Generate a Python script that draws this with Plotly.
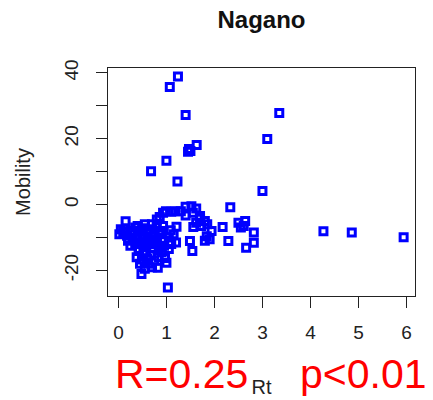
import plotly.graph_objects as go

# Rt (x) and Mobility (y) values
rt = [
    # outliers
    1.24, 1.07, 1.40, 3.35, 3.10, 1.63, 1.47, 1.50, 1.45, 1.00, 0.68, 1.23, 3.00, 2.33,
    4.27, 4.86, 5.94, 1.03, 0.48,
    # mid-right group
    2.17, 2.29, 2.50, 2.64, 2.61, 2.82, 2.82, 2.66, 2.55,
    # right lobe
    1.40, 1.52, 1.62, 1.40, 1.55, 1.70, 1.70, 1.80, 1.85, 1.56, 1.62, 1.94, 1.84, 1.80,
    1.90, 1.49, 1.54, 1.72,
    # arc top
    0.99, 1.19, 0.93, 1.10, 1.30, 0.86, 0.80,
    # main blob
    0.15, 0.05, 0.02, 0.10, 0.18, 0.25, 0.30, 0.35, 0.40, 0.45, 0.50, 0.55, 0.60, 0.65,
    0.70, 0.75, 0.80, 0.85, 0.93, 1.09, 1.21, 1.15, 1.05, 0.95, 1.20, 0.90, 0.40, 0.45,
    0.50, 0.55, 0.60, 0.65, 0.70, 0.75, 0.80, 0.85, 0.30, 0.35, 0.42, 0.43, 0.49, 0.52,
    0.58, 0.67, 0.72, 0.84, 0.84, 0.97, 1.00, 0.82, 0.62, 0.55, 0.45, 0.75, 0.90, 1.05,
    0.38, 0.60, 0.70, 0.95, 1.10, 0.20, 0.25,
]
mobility = [
    38.9, 35.7, 27.2, 27.8, 19.9, 18.1, 16.9, 16.3, 16.0, 13.3, 10.1, 7.0, 4.1, -0.8,
    -8.1, -8.5, -9.9, -25.2, -21.1,
    -6.8, -11.1, -5.5, -5.0, -6.5, -8.5, -11.6, -13.1, -7.0,
    -0.7, -0.5, -1.2, -3.3, -2.5, -3.5, -4.3, -5.0, -6.0, -6.8, -5.5, -8.0, -9.6, -11.0,
    -10.5, -11.1, -14.1, -6.5,
    -2.0, -2.0, -2.5, -2.2, -2.0, -3.8, -4.5,
    -5.1, -7.5, -9.0, -8.3, -9.5, -8.0, -8.5, -7.0, -6.5, -8.0, -7.2, -6.0, -8.8, -7.5,
    -6.0, -8.5, -7.0, -9.0, -6.5, -7.8, -6.7, -9.0, -10.0, -11.0, -11.5, -8.0, -10.0, -11.5,
    -9.5, -12.5, -10.5, -11.8, -9.8, -12.0, -10.5, -13.0, -10.5, -12.0, -13.5, -14.1, -16.7, -15.0,
    -14.2, -15.5, -13.1, -13.7, -15.9, -16.2, -17.7, -19.2, -18.0, -19.5, -18.0, -17.0, -14.5, -13.5,
    -16.0, -16.5, -19.0, -12.5, -12.0, -11.0, -12.5,
]

x_ticks = [0, 1, 2, 3, 4, 5, 6]
y_ticks = [-20, -10, 0, 10, 20, 30, 40]
y_ticktext = ["-20", "", "0", "", "20", "", "40"]

title_text = "Nagano"
x_title = "Rt"
y_title = "Mobility"
r_text = "R=0.25"
p_text = "p<0.01"


def r_range(v):
    lo, hi = min(v), max(v)
    ext = 0.04 * (hi - lo)
    return [lo - ext, hi + ext]


FONT = "Liberation Sans, Arial, sans-serif"

fig = go.Figure()
fig.add_trace(go.Scatter(
    x=rt, y=mobility, mode="markers",
    marker=dict(symbol="square-open", size=7, color="#0000FF",
                line=dict(width=3, color="#0000FF")),
    showlegend=False,
))

axis_font = dict(family=FONT, size=19, color="#222222")

fig.update_layout(
    width=433, height=400,
    margin=dict(l=108, r=18, t=68, b=104, autoexpand=False),
    paper_bgcolor="white", plot_bgcolor="white",
    title=dict(text=f"<b>{title_text}</b>", x=0.5, xref="paper", xanchor="center",
               y=1 - 20 / 400, yref="container", yanchor="middle", automargin=False,
               font=dict(family=FONT, size=24, color="#111111")),
    xaxis=dict(
        range=r_range(rt), tickvals=x_ticks, ticks="outside", ticklen=11, tickwidth=1.3,
        tickcolor="#222222", showline=True, linecolor="#222222", linewidth=1.3, mirror=True,
        showgrid=False, zeroline=False, tickfont=axis_font, ticklabelstandoff=8,
        automargin=False,
        title=dict(text=x_title, font=dict(family=FONT, size=20, color="#222222"), standoff=38),
    ),
    yaxis=dict(
        range=r_range(mobility), tickvals=y_ticks, ticktext=y_ticktext, ticks="outside",
        ticklen=11, tickwidth=1.3, tickcolor="#222222", showline=True, linecolor="#222222",
        linewidth=1.3, mirror=True, showgrid=False, zeroline=False, tickfont=axis_font,
        tickangle=-90, ticklabelstandoff=10, automargin=False,
        title=dict(text=y_title, font=dict(family=FONT, size=20, color="#222222"), standoff=25),
    ),
    annotations=[
        dict(text=r_text, xref="paper", yref="paper", x=(113 - 108) / 307,
             y=(296 - 373.7) / 228, xanchor="left", yanchor="middle", showarrow=False,
             font=dict(family=FONT, size=41, color="#FF0000")),
        dict(text=p_text, xref="paper", yref="paper", x=(298 - 108) / 307,
             y=(296 - 373.7) / 228, xanchor="left", yanchor="middle", showarrow=False,
             font=dict(family=FONT, size=41, color="#FF0000")),
    ],
)

fig.write_html(
    "out.html",
    config={"displayModeBar": False},
    post_script="document.body.style.margin='0';document.body.style.overflow='hidden';",
)
